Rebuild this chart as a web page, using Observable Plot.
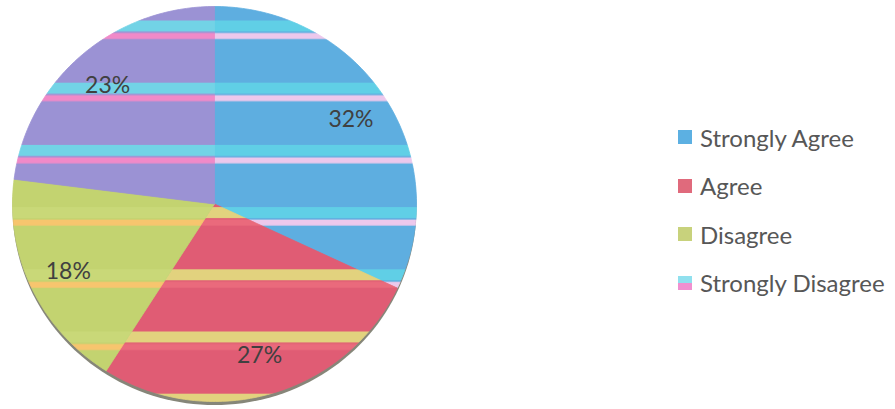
<!DOCTYPE html>
<html>
<head>
<meta charset="utf-8">
<script src="https://cdn.jsdelivr.net/npm/d3@7"></script>
<script src="https://cdn.jsdelivr.net/npm/@observablehq/plot@0.6"></script>
<style>
  html, body { margin: 0; padding: 0; background: #ffffff; }
  #wrap { position: relative; width: 895px; height: 409px; overflow: hidden; font-family: Lato, "Open Sans", sans-serif; }
  #chart { position: absolute; left: 0; top: 0; }
  #legend { position: absolute; left: 678px; top: 113px; }
  .item { display: flex; align-items: center; height: 48.5px; font-size: 24px; color: #575757; white-space: nowrap; }
  .sw { width: 14px; height: 14px; margin-right: 8px; flex: none; }
</style>
</head>
<body>
<div id="wrap">
  <div id="chart"></div>
  <div id="legend"></div>
</div>
<script>
// ---- data ----
const categories = ["Strongly Agree", "Agree", "Disagree", "Strongly Disagree"];
const percents = [32, 27, 18, 23];
const labels = ["32%", "27%", "18%", "23%"];

// ---- styles (fills and stripe texture per slice) ----
const baseColors   = ["#5eaee0", "#e05c74", "#c3d370", "#9b92d4"];
const stripeA      = ["#60cfe6", "#e2d27e", "#c9d878", "#72d3e6"];
const stripeB      = ["#ecc8ec", "#ea6a7c", "#f7c56e", "#f08ac8"];
const legendTop    = ["#5cb0e2", "#e06a7c", "#c8d27c", "#90e0ee"];
const legendBottom = ["#5cb0e2", "#e06a7c", "#c8d27c", "#f090d0"];

const arcs = d3.pie().sort(null).value(d => d)(percents)
  .map((a, i) => ({...a, key: categories[i], label: labels[i], i}));

// slice outlines (in unit-circle coordinates) computed from the pie angles
const slicePts = arcs.flatMap(a => {
  const n = Math.max(2, Math.ceil((a.endAngle - a.startAngle) / (Math.PI / 180)));
  const pts = [{key: a.key, x: 0, y: 0}];
  for (let j = 0; j <= n; j++) {
    const t = a.startAngle + (a.endAngle - a.startAngle) * j / n;
    pts.push({key: a.key, x: Math.sin(t), y: Math.cos(t)});
  }
  pts.push({key: a.key, x: 0, y: 0});
  return pts;
});
const shadowPts = d3.range(0, 361, 2).map(d => {
  const t = d * Math.PI / 180;
  return {x: Math.sin(t), y: Math.cos(t) - 0.018};
});

const plot = Plot.plot({
  width: 440,
  height: 409,
  margin: 0,
  style: {fontFamily: "Lato, 'Open Sans', sans-serif", background: "transparent"},
  x: {domain: [-1, 1], range: [12, 416], axis: null},
  y: {domain: [-1, 1], range: [401, 6], axis: null},
  marks: [
    Plot.line(shadowPts, {x: "x", y: "y", fill: "#5e5e4c", fillOpacity: 0.75, stroke: "none"}),
    ...arcs.map(a => Plot.line(slicePts.filter(p => p.key === a.key),
      {x: "x", y: "y", fill: `url(#stripe${a.i})`, stroke: `url(#stripe${a.i})`, strokeWidth: 0.8})),
    Plot.text(arcs, {
      x: a => 0.8 * Math.sin((a.startAngle + a.endAngle) / 2),
      y: a => 0.8 * Math.cos((a.startAngle + a.endAngle) / 2),
      text: "label",
      fontSize: 23,
      fill: "#404040"
    })
  ]
});

// stripe textures (horizontal bands as in the reference)
const ns = "http://www.w3.org/2000/svg";
const defs = document.createElementNS(ns, "defs");
const period = 62.2, widthP = 440;
arcs.forEach(a => {
  const p = document.createElementNS(ns, "pattern");
  p.setAttribute("id", `stripe${a.i}`);
  p.setAttribute("patternUnits", "userSpaceOnUse");
  p.setAttribute("x", 0);
  p.setAttribute("y", 20);
  p.setAttribute("width", widthP);
  p.setAttribute("height", period);
  const rects = [
    [0, period, baseColors[a.i]],
    [0, 11, stripeA[a.i]],
    [12.5, 6, stripeB[a.i]]
  ];
  rects.forEach(([y, h, f]) => {
    const r = document.createElementNS(ns, "rect");
    r.setAttribute("x", 0); r.setAttribute("y", y);
    r.setAttribute("width", widthP); r.setAttribute("height", h);
    r.setAttribute("fill", f);
    p.appendChild(r);
  });
  defs.appendChild(p);
});
plot.insertBefore(defs, plot.firstChild);
document.getElementById("chart").appendChild(plot);

// legend
const legend = document.getElementById("legend");
categories.forEach((c, i) => {
  const item = document.createElement("div");
  item.className = "item";
  const sw = document.createElement("span");
  sw.className = "sw";
  sw.style.background = `linear-gradient(${legendTop[i]} 0 50%, ${legendBottom[i]} 50% 100%)`;
  const t = document.createElement("span");
  t.textContent = c;
  item.appendChild(sw);
  item.appendChild(t);
  legend.appendChild(item);
});
</script>
</body>
</html>
